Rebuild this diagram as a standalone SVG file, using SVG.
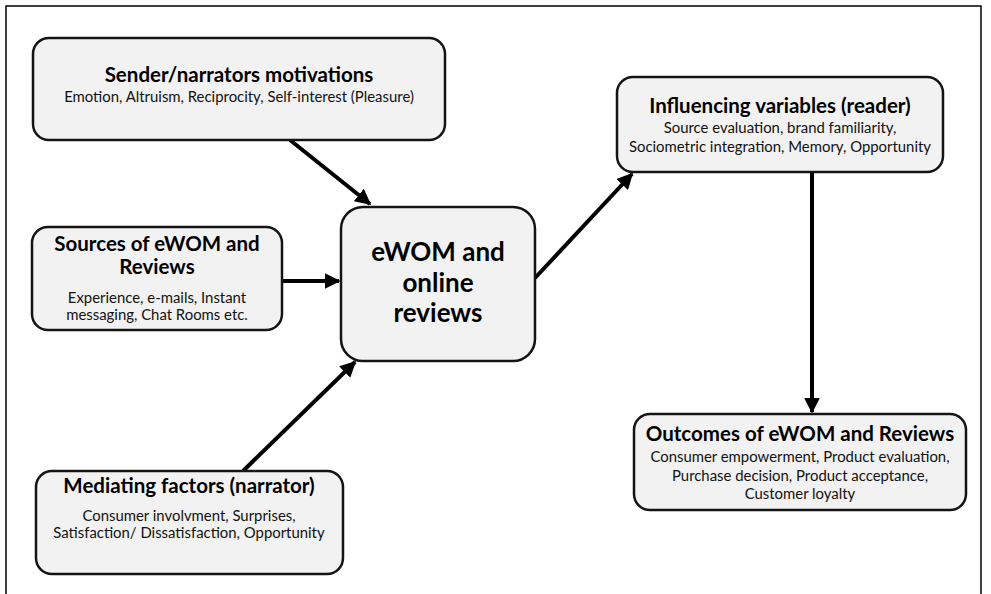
<svg xmlns="http://www.w3.org/2000/svg" width="991" height="594" viewBox="0 0 991 594">
<style>
.box{fill:#f2f2f2;stroke:#141414;stroke-width:2.5}
.t{font-family:Lato,"Open Sans","Liberation Sans",sans-serif;font-weight:bold;fill:#000;text-anchor:middle;font-size:20.5px}
.s{font-family:Lato,"Open Sans","Liberation Sans",sans-serif;fill:#111;text-anchor:middle;font-size:14.9px}
.big{font-size:26px}
.c{stroke:#000;stroke-width:4;fill:none;marker-end:url(#ah)}
</style>
<defs>
<marker id="ah" markerWidth="4" markerHeight="4" refX="3.6" refY="2" orient="auto" markerUnits="strokeWidth" viewBox="0 0 4 4">
<path d="M0,0 L4,2 L0,4 Z" fill="#000"/>
</marker>
</defs>
<rect x="0" y="0" width="991" height="594" fill="#fff"/>
<rect x="6" y="6" width="975" height="600" fill="none" stroke="#000" stroke-width="1.5"/>
<g id="connectors">
<line class="c" x1="290" y1="140" x2="370" y2="204"/>
<line class="c" x1="282" y1="281" x2="339" y2="281"/>
<line class="c" x1="243" y1="471" x2="355" y2="362"/>
<line class="c" x1="535" y1="278" x2="632" y2="174"/>
<line class="c" x1="812" y1="172" x2="812" y2="412"/>
</g>
<g id="sender">
<rect class="box" x="33" y="38" width="412" height="102" rx="16"/>
<text class="t" x="239" y="82">Sender/narrators motivations</text>
<text class="s" x="239" y="102">Emotion, Altruism, Reciprocity, Self-interest (Pleasure)</text>
</g>
<g id="sources">
<rect class="box" x="32" y="227" width="250" height="103" rx="16"/>
<text class="t" x="157" y="251">Sources of eWOM and</text>
<text class="t" x="157" y="274">Reviews</text>
<text class="s" x="157" y="303">Experience, e-mails, Instant</text>
<text class="s" x="157" y="320">messaging, Chat Rooms etc.</text>
</g>
<g id="center">
<rect class="box" x="341" y="207" width="194" height="154" rx="22"/>
<text class="t big" x="438" y="261">eWOM and</text>
<text class="t big" x="438" y="292">online</text>
<text class="t big" x="438" y="322">reviews</text>
</g>
<g id="mediating">
<rect class="box" x="36" y="471" width="307" height="103" rx="16"/>
<text class="t" x="189" y="493">Mediating factors (narrator)</text>
<text class="s" x="189" y="521">Consumer involvment, Surprises,</text>
<text class="s" x="189" y="538">Satisfaction/ Dissatisfaction, Opportunity</text>
</g>
<g id="influencing">
<rect class="box" x="617" y="77" width="326" height="95" rx="16"/>
<text class="t" x="780" y="113">Influencing variables (reader)</text>
<text class="s" x="780" y="133">Source evaluation, brand familiarity,</text>
<text class="s" x="780" y="152">Sociometric integration, Memory, Opportunity</text>
</g>
<g id="outcomes">
<rect class="box" x="634" y="414" width="332" height="96" rx="16"/>
<text class="t" x="800" y="441">Outcomes of eWOM and Reviews</text>
<text class="s" x="800" y="462">Consumer empowerment, Product evaluation,</text>
<text class="s" x="800" y="481">Purchase decision, Product acceptance,</text>
<text class="s" x="800" y="499">Customer loyalty</text>
</g>
</svg>
